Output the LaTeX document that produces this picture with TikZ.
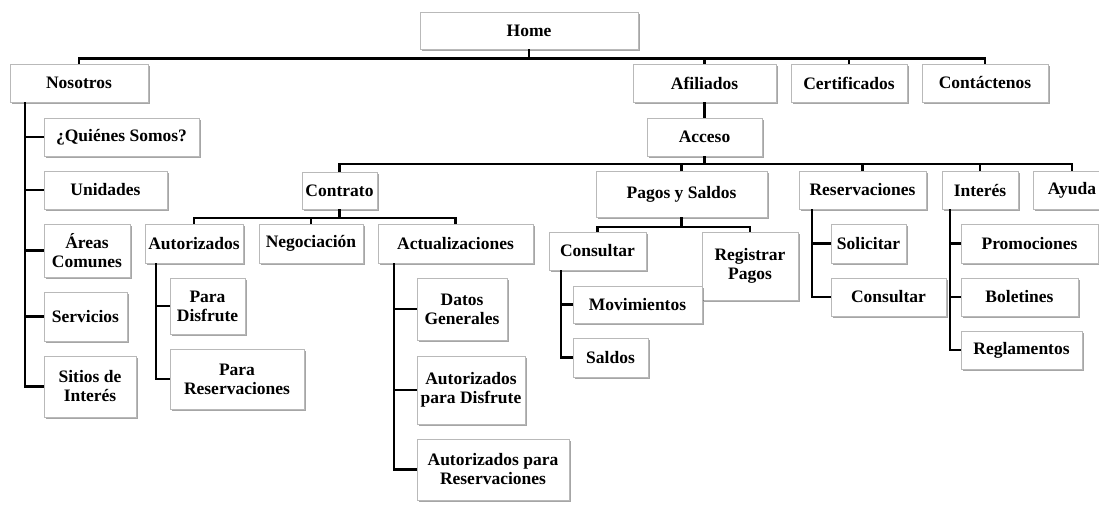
\documentclass[tikz,border=0pt]{standalone}
\usepackage{fontspec}
\setmainfont{Liberation Serif}
\usetikzlibrary{shadows}
\begin{document}
\begin{tikzpicture}[x=1pt,y=-1pt,
  box/.style={draw=gray!55, line width=0.8pt, fill=white, rectangle, inner sep=0pt, align=center,
    font=\fontsize{17.5}{19}\selectfont\bfseries,
    drop shadow={shadow xshift=1.5pt, shadow yshift=-2pt, fill=black, opacity=0.35}},
  conn/.style={line width=2.8pt, black, line join=miter}]
\clip (0,0) rectangle (1099,512);
\fill[white] (0,0) rectangle (1099,512);
% nodes
\node[box, minimum width=218, minimum height=37] (home) at (529,30.5) {Home};
\node[box, minimum width=138, minimum height=38] (nos) at (79,83) {Nosotros};
\node[box, minimum width=143, minimum height=38] (afil) at (704.5,83) {Afiliados};
\node[box, minimum width=116, minimum height=38] (cert) at (849,83) {Certificados};
\node[box, minimum width=126, minimum height=38] (cont) at (985,83) {Contáctenos};
\node[box, minimum width=155, minimum height=38] (qui) at (121.5,137) {¿Quiénes Somos?};
\node[box, minimum width=123, minimum height=38] (uni) at (105.5,190) {Unidades};
\node[box, minimum width=86, minimum height=53] (are) at (87,250.5) {Áreas\\Comunes};
\node[box, minimum width=83, minimum height=49] (ser) at (85.5,316.5) {Servicios};
\node[box, minimum width=92, minimum height=61] (sit) at (90,386.5) {Sitios de\\Interés};
\node[box, minimum width=115, minimum height=38] (acc) at (704.5,137) {Acceso};
\node[box, minimum width=75, minimum height=37] (ctr) at (339.5,190.5) {Contrato};
\node[box, minimum width=171, minimum height=46] (pys) at (681.5,194) {Pagos y Saldos};
\node[box, minimum width=127, minimum height=38] (res) at (862.5,190) {Reservaciones};
\node[box, minimum width=76, minimum height=38] (int) at (980,190) {Interés};
\node[box, minimum width=78, minimum height=38] (ayu) at (1072,190) {Ayuda};
\node[box, minimum width=98, minimum height=39] (aut) at (194,243.5) {Autorizados};
\node[box, minimum width=104, minimum height=39] (neg) at (311,243.5) {Negociación};
\node[box, minimum width=155, minimum height=39] (act) at (455.5,243.5) {Actualizaciones};
\node[box, minimum width=75, minimum height=56] (pd) at (207.5,306) {Para\\Disfrute};
\node[box, minimum width=134, minimum height=60] (pr) at (237,379) {Para\\Reservaciones};
\node[box, minimum width=90, minimum height=62] (dg) at (462,309) {Datos\\Generales};
\node[box, minimum width=108, minimum height=68] (apd) at (471,390) {Autorizados\\para Disfrute};
\node[box, minimum width=152, minimum height=61] (apr) at (493,469.5) {Autorizados para\\Reservaciones};
\node[box, minimum width=97, minimum height=38] (con) at (597.5,251) {Consultar};
\node[box, minimum width=96, minimum height=68] (reg) at (750,266) {Registrar\\Pagos};
\node[box, minimum width=129, minimum height=37] (mov) at (637.5,304.5) {Movimientos};
\node[box, minimum width=75, minimum height=39] (sal) at (610.5,357.5) {Saldos};
\node[box, minimum width=75, minimum height=39] (sol) at (868.5,243.5) {Solicitar};
\node[box, minimum width=115, minimum height=38] (con2) at (888.5,297) {Consultar};
\node[box, minimum width=137, minimum height=39] (pro) at (1029.5,243.5) {Promociones};
\node[box, minimum width=117, minimum height=38] (bol) at (1019.5,297) {Boletines};
\node[box, minimum width=121, minimum height=38] (regl) at (1021.5,350) {Reglamentos};
% bus coordinates
\coordinate (b1) at (0,58.5);
\coordinate (b2) at (0,164);
\coordinate (b3) at (0,218);
\coordinate (b4) at (0,227);
\coordinate (vn) at (25,0);
\coordinate (va) at (156,0);
\coordinate (vc) at (394,0);
\coordinate (vk) at (561,0);
\coordinate (vr) at (812,0);
\coordinate (vi) at (950,0);
% level 1
\draw[conn] (nos.north) -- (nos.north |- b1) -- (cont.north |- b1) -- (cont.north);
\draw[conn] (home.south) -- (home.south |- b1);
\draw[conn] (afil.north) -- (afil.north |- b1);
\draw[conn] (cert.north) -- (cert.north |- b1);
% Nosotros
\draw[conn] (vn |- nos.south) -- (vn |- sit.west) -- (sit.west);
\draw[conn] (vn |- qui.west) -- (qui.west);
\draw[conn] (vn |- uni.west) -- (uni.west);
\draw[conn] (vn |- are.west) -- (are.west);
\draw[conn] (vn |- ser.west) -- (ser.west);
% Afiliados / Acceso
\draw[conn] (afil.south) -- (acc.north);
\draw[conn] (acc.south) -- (acc.south |- b2);
\draw[conn] (ctr.north) -- (ctr.north |- b2) -- (ayu.north |- b2) -- (ayu.north);
\draw[conn] (pys.north) -- (pys.north |- b2);
\draw[conn] (res.north) -- (res.north |- b2);
\draw[conn] (int.north) -- (int.north |- b2);
% Contrato
\draw[conn] (ctr.south) -- (ctr.south |- b3);
\draw[conn] (aut.north) -- (aut.north |- b3) -- (act.north |- b3) -- (act.north);
\draw[conn] (neg.north) -- (neg.north |- b3);
\draw[conn] (va |- aut.south) -- (va |- pr.west) -- (pr.west);
\draw[conn] (va |- pd.west) -- (pd.west);
\draw[conn] (vc |- act.south) -- (vc |- apr.west) -- (apr.west);
\draw[conn] (vc |- dg.west) -- (dg.west);
\draw[conn] (vc |- apd.west) -- (apd.west);
% Pagos y Saldos
\draw[conn] (pys.south) -- (pys.south |- b4);
\draw[conn] (con.north) -- (con.north |- b4) -- (reg.north |- b4) -- (reg.north);
\draw[conn] (vk |- con.south) -- (vk |- sal.west) -- (sal.west);
\draw[conn] (vk |- mov.west) -- (mov.west);
% Reservaciones
\draw[conn] (vr |- res.south) -- (vr |- con2.west) -- (con2.west);
\draw[conn] (vr |- sol.west) -- (sol.west);
% Interés
\draw[conn] (vi |- int.south) -- (vi |- regl.west) -- (regl.west);
\draw[conn] (vi |- pro.west) -- (pro.west);
\draw[conn] (vi |- bol.west) -- (bol.west);
\end{tikzpicture}
\end{document}
